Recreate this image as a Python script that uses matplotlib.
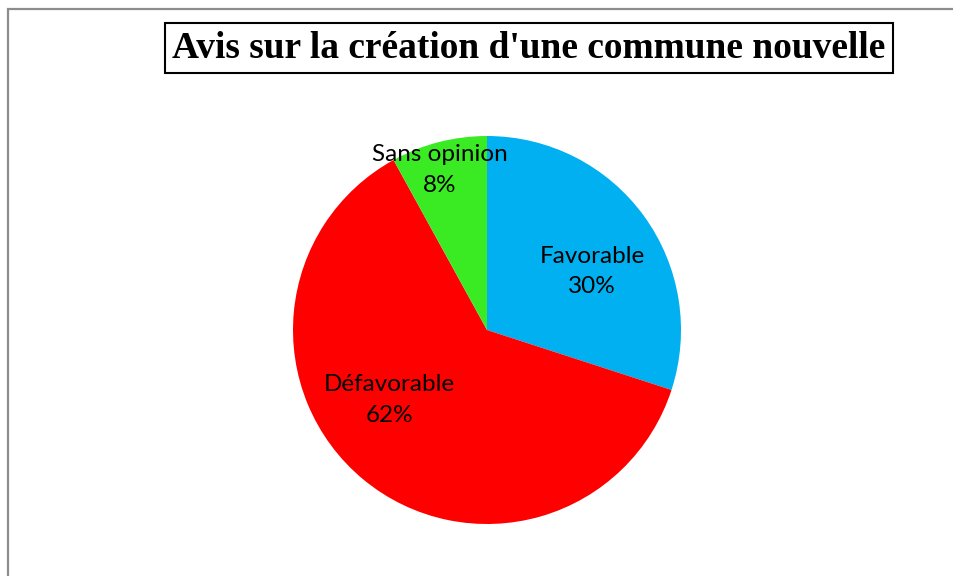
import matplotlib
matplotlib.use("Agg")
import matplotlib.pyplot as plt
from matplotlib.patches import Rectangle
import numpy as np

# données
categories = ["Favorable", "Défavorable", "Sans opinion"]
valeurs = [30, 62, 8]
couleurs = ["#00B0F0", "#FF0000", "#3AEB24"]
titre = "Avis sur la création d'une commune nouvelle"

# position des étiquettes (rayon relatif, angle en degrés)
pos_etiquettes = [(0.62, 29), (0.62, 215.5), (0.86, 106.4)]

fig = plt.figure(figsize=(9.54, 5.76), dpi=100)

# cadre gris du graphique
fig.patches.append(Rectangle((8 / 954, -0.1), 1.2, 1 - 9 / 576 + 0.1,
                             transform=fig.transFigure, fill=False,
                             edgecolor="#8c8c8c", linewidth=1.6))

# axe carré pour le camembert
ax = fig.add_axes([293 / 954, 52 / 576, 388 / 954, 388 / 576])
ax.pie(valeurs, colors=couleurs, startangle=90, counterclock=False, radius=1,
       wedgeprops=dict(linewidth=0))
ax.set_xlim(-1, 1)
ax.set_ylim(-1, 1)
ax.set_aspect("equal")
ax.axis("off")

for cat, val, (r, a) in zip(categories, valeurs, pos_etiquettes):
    x = r * np.cos(np.radians(a))
    y = r * np.sin(np.radians(a))
    ax.text(x, y, f"{cat}\n{val}%", ha="center", va="center",
            fontsize=17.5, family="Lato", linespacing=1.55, color="black")

fig.text(529 / 954, 1 - 48 / 576, titre, ha="center", va="center",
         fontsize=26.9, fontweight="bold", family="Liberation Serif",
         bbox=dict(boxstyle="square,pad=0.2", fc="white", ec="black", lw=1.5))

fig.savefig("out.png", dpi=100)
